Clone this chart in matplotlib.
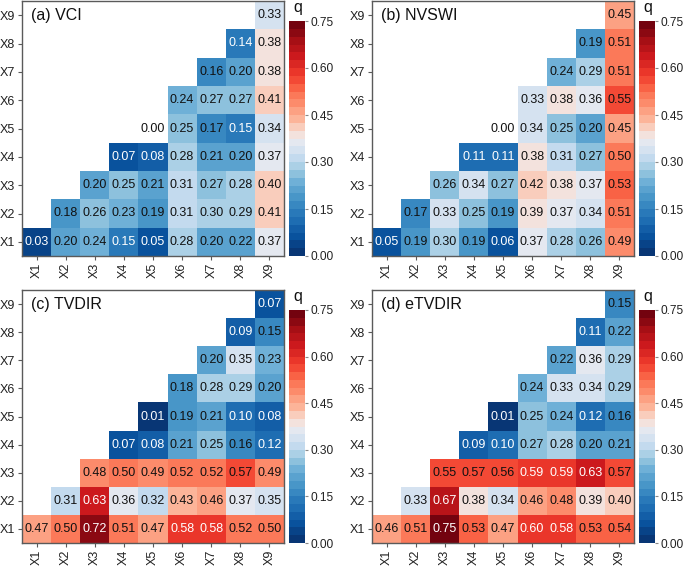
import numpy as np
import matplotlib
matplotlib.use("Agg")
import matplotlib.pyplot as plt
from matplotlib.colors import ListedColormap, BoundaryNorm, LinearSegmentedColormap

plt.rcParams['font.family'] = ['Liberation Sans', 'DejaVu Sans']

labels = ["X1", "X2", "X3", "X4", "X5", "X6", "X7", "X8", "X9"]
titles = ["(a) VCI", "(b) NVSWI", "(c) TVDIR", "(d) eTVDIR"]

# Each row Xi lists the values for columns Xi..X9
vci = [
    [0.03, 0.20, 0.24, 0.148, 0.05, 0.28, 0.20, 0.22, 0.37],
    [0.18, 0.26, 0.23, 0.19, 0.31, 0.30, 0.29, 0.41],
    [0.20, 0.25, 0.21, 0.31, 0.27, 0.28, 0.40],
    [0.07, 0.08, 0.28, 0.21, 0.20, 0.37],
    [0.00, 0.25, 0.17, 0.148, 0.34],
    [0.24, 0.27, 0.27, 0.41],
    [0.16, 0.20, 0.38],
    [0.14, 0.38],
    [0.33],
]
nvswi = [
    [0.05, 0.19, 0.30, 0.19, 0.06, 0.37, 0.28, 0.26, 0.49],
    [0.17, 0.33, 0.25, 0.19, 0.39, 0.37, 0.34, 0.51],
    [0.26, 0.34, 0.27, 0.42, 0.38, 0.37, 0.53],
    [0.11, 0.11, 0.38, 0.31, 0.27, 0.50],
    [0.00, 0.34, 0.25, 0.20, 0.45],
    [0.33, 0.38, 0.36, 0.55],
    [0.24, 0.29, 0.51],
    [0.19, 0.51],
    [0.45],
]
tvdir = [
    [0.47, 0.50, 0.72, 0.51, 0.47, 0.58, 0.58, 0.52, 0.50],
    [0.31, 0.63, 0.36, 0.32, 0.43, 0.46, 0.37, 0.35],
    [0.48, 0.50, 0.49, 0.52, 0.52, 0.57, 0.49],
    [0.07, 0.08, 0.21, 0.25, 0.16, 0.12],
    [0.01, 0.19, 0.21, 0.10, 0.08],
    [0.18, 0.28, 0.29, 0.20],
    [0.20, 0.35, 0.23],
    [0.09, 0.152],
    [0.07],
]
etvdir = [
    [0.46, 0.51, 0.75, 0.53, 0.47, 0.60, 0.58, 0.53, 0.54],
    [0.33, 0.67, 0.38, 0.34, 0.46, 0.48, 0.39, 0.40],
    [0.55, 0.57, 0.56, 0.59, 0.59, 0.63, 0.57],
    [0.09, 0.10, 0.27, 0.28, 0.20, 0.21],
    [0.01, 0.25, 0.24, 0.12, 0.16],
    [0.24, 0.33, 0.34, 0.29],
    [0.22, 0.36, 0.29],
    [0.11, 0.22],
    [0.152],
]
panels = [vci, nvswi, tvdir, etvdir]

vmin, vmax, nbins = 0.0, 0.75, 30
cbar_ticks = [0.00, 0.15, 0.30, 0.45, 0.60, 0.75]

# diverging ramp: ColorBrewer Blues (low) -> light grey -> Reds (high)
ramp = [
    (0.000, "#08306b"), (0.060, "#08519c"), (0.120, "#2171b5"), (0.180, "#4292c6"),
    (0.235, "#6baed6"), (0.275, "#9ecae1"), (0.315, "#c6dbef"), (0.350, "#dce5f1"),
    (0.375, "#ecebee"), (0.395, "#f7ddd5"), (0.430, "#fcbba1"), (0.480, "#fc9272"),
    (0.530, "#fb6a4a"), (0.580, "#ef3b2c"), (0.640, "#cb181d"), (0.690, "#a50f15"),
    (0.750, "#67000d"),
]
smooth = LinearSegmentedColormap.from_list("bwr_q", [(p / vmax, c) for p, c in ramp])
cols = smooth((np.arange(nbins) + 0.5) / nbins)
cmap = ListedColormap(cols)
cmap.set_bad((1, 1, 1, 0))
bounds = np.linspace(vmin, vmax, nbins + 1)
norm = BoundaryNorm(bounds, cmap.N)

W, H = 685, 566
fig = plt.figure(figsize=(W / 100, H / 100), dpi=100)

# pixel boxes: (left, top, right, bottom) for axes and colorbar
ax_boxes = [(22, 1, 284, 256), (372, 1, 634, 256), (22, 290, 284, 543), (372, 290, 634, 543)]
cb_boxes = [(289, 21, 305, 256), (639, 21, 655, 256), (289, 310, 305, 543), (639, 310, 655, 543)]

def frac(box):
    l, t, r, b = box
    return [l / W, (H - b) / H, (r - l) / W, (b - t) / H]

frame_col = "#5a5a5a"
for k, rows in enumerate(panels):
    n = len(labels)
    M = np.full((n, n), np.nan)
    for i, row in enumerate(rows):
        for j, v in enumerate(row):
            M[i, i + j] = v
    colorM = np.ma.masked_where(~(M > 0), M)

    ax = fig.add_axes(frac(ax_boxes[k]))
    mesh = ax.pcolormesh(np.arange(n + 1), np.arange(n + 1), colorM, cmap=cmap, norm=norm)
    for i in range(n):
        for j in range(n):
            v = M[i, j]
            if np.isnan(v):
                continue
            white = (v > 0) and (v < 0.15 or v >= 0.575)
            ax.text(j + 0.5, i + 0.5, f"{v:.2f}", ha="center", va="center",
                    fontsize=9, color="white" if white else "#111111")
    ax.set_xlim(0, n)
    ax.set_ylim(0, n)
    ax.set_xticks(np.arange(n) + 0.5)
    ax.set_yticks(np.arange(n) + 0.5)
    ax.set_xticklabels(labels, rotation=90, fontsize=9)
    ax.set_yticklabels(labels, fontsize=9)
    ax.tick_params(length=3, width=0.8, color=frame_col, pad=2, labelcolor="#222222")
    for s in ax.spines.values():
        s.set_color(frame_col)
        s.set_linewidth(1.0)
    ax.text(0.3, 8.5, titles[k], ha="left", va="center", fontsize=11.5, color="#111111")

    cax = fig.add_axes(frac(cb_boxes[k]))
    cb = fig.colorbar(mesh, cax=cax, ticks=cbar_ticks, boundaries=bounds)
    cb.outline.set_visible(False)
    cb.ax.set_yticklabels([f"{t:.2f}" for t in cbar_ticks])
    cb.ax.tick_params(length=2.5, width=0.8, color="#888888", labelsize=8.6, pad=1.5, labelcolor="#222222")
    cb.ax.minorticks_off()
    l, t, r, b = cb_boxes[k]
    fig.text((l + 4) / W, (H - t + 6) / H, "q", fontsize=11.5, ha="left", va="bottom", color="#111111")

fig.savefig("out.png", dpi=100)
